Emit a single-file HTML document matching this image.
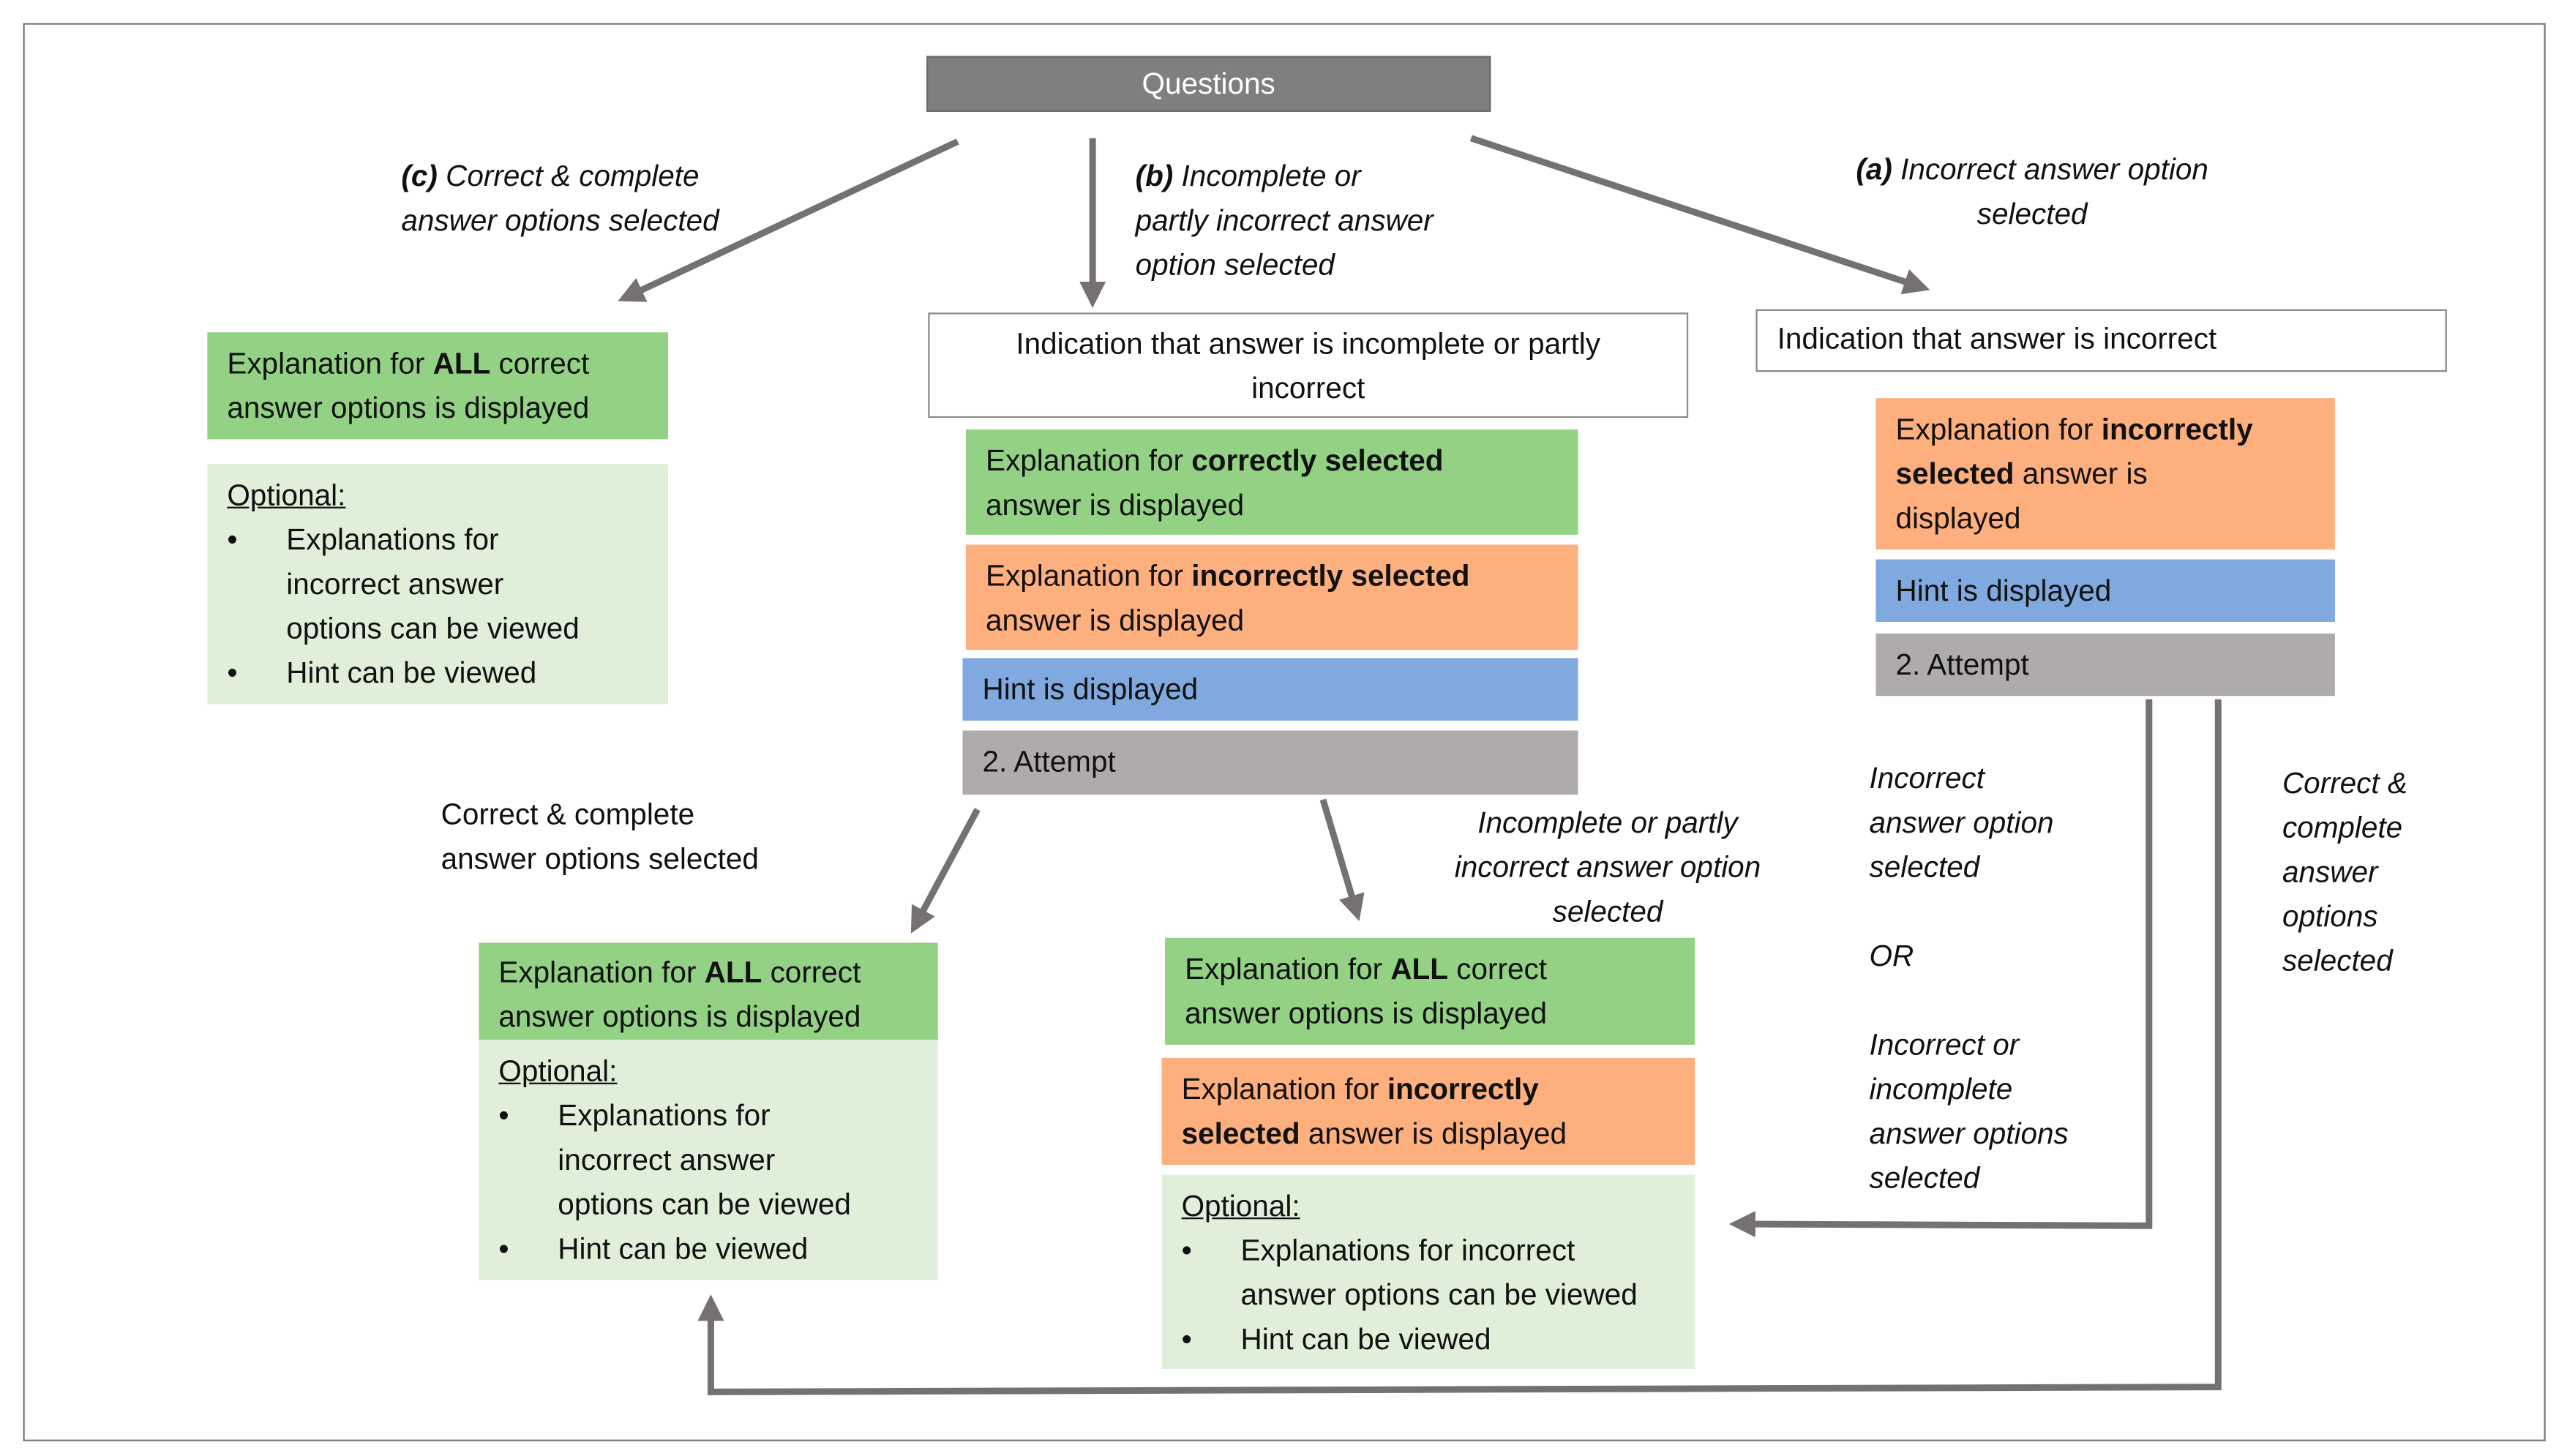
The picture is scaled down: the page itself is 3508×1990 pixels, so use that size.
<!DOCTYPE html>
<html><head><meta charset="utf-8">
<style>
html,body{margin:0;padding:0;background:#fff;}
body{width:3508px;height:1989px;overflow:hidden;}
#c{position:absolute;left:0;top:0;width:1560px;height:885px;transform:scale(2.2487);transform-origin:0 0;font-family:"Liberation Sans",sans-serif;font-size:18px;color:#111;}
.b{position:absolute;box-sizing:border-box;padding:6px 12px;line-height:27px;white-space:nowrap;}
.g{background:#93d285;}
.lg{background:#dfefd9;}
.o{background:#fdb07e;}
.bl{background:#80aadf;}
.gr{background:#afabab;}
.w{background:#fff;border:1.5px solid #8a8a8a;}
.t{position:absolute;line-height:27px;white-space:nowrap;}
i b{font-style:italic}
ul{margin:0;padding:0;list-style:none}
li{position:relative;padding-left:36px}
li:before{content:"•";position:absolute;left:0}
u{text-decoration:underline}
</style></head><body>
<div id="c">
<div style="position:absolute;left:14px;top:14px;width:1533px;height:862px;border:1.5px solid #7a7a7a;box-sizing:border-box"></div>
<div class="b" style="left:563px;top:34px;width:343px;height:34px;background:#7f7f7f;color:#fff;text-align:center;padding:3px 0;border:1px solid #6a6a6a;line-height:27px">Questions</div>

<svg width="1560" height="885" style="position:absolute;left:0;top:0" >
<defs><marker id="a" markerWidth="4" markerHeight="4" refX="2.2" refY="2" orient="auto"><path d="M0,0 L4,2 L0,4 z" fill="#767171"/></marker></defs>
<g stroke="#767171" stroke-width="4" fill="none">
<line x1="582" y1="86" x2="382" y2="180" marker-end="url(#a)"/>
<line x1="664" y1="84" x2="664" y2="180" marker-end="url(#a)"/>
<line x1="894" y1="84" x2="1166" y2="174" marker-end="url(#a)"/>
<line x1="594" y1="492" x2="557" y2="561" marker-end="url(#a)"/>
<line x1="804" y1="486" x2="824" y2="553" marker-end="url(#a)"/>
<polyline points="1306,425 1306,745 1058,744" marker-end="url(#a)"/>
<polyline points="1348,425 1348,843 432,846 432,794" marker-end="url(#a)"/>
</g></svg>

<div class="t" style="right:1123px;top:94px;text-align:left"><i><b>(c)</b> Correct &amp; complete<br>answer options selected</i></div>
<div class="t" style="left:690px;top:94px"><i><b>(b)</b> Incomplete or<br>partly incorrect answer<br>option selected</i></div>
<div class="t" style="left:1112px;top:90px;width:246px;text-align:center"><i><b>(a)</b> Incorrect answer option<br>selected</i></div>

<div class="b g" style="left:126px;top:202px;width:280px;height:65px;padding-top:6px">Explanation for <b>ALL</b> correct<br>answer options is displayed</div>
<div class="b lg" style="left:126px;top:282px;width:280px;height:146px;padding-top:6px"><u>Optional:</u><ul><li>Explanations for<br>incorrect answer<br>options can be viewed</li><li>Hint can be viewed</li></ul></div>

<div class="b w" style="left:564px;top:190px;width:462px;height:64px;text-align:center;padding-top:5px">Indication that answer is incomplete or partly<br>incorrect</div>
<div class="b g" style="left:587px;top:261px;width:372px;height:64px">Explanation for <b>correctly selected</b><br>answer is displayed</div>
<div class="b o" style="left:587px;top:331px;width:372px;height:64px">Explanation for <b>incorrectly selected</b><br>answer is displayed</div>
<div class="b bl" style="left:585px;top:400px;width:374px;height:38px;padding-top:6px">Hint is displayed</div>
<div class="b gr" style="left:585px;top:444px;width:374px;height:39px;padding-top:6px">2. Attempt</div>

<div class="b w" style="left:1067px;top:188px;width:420px;height:38px;padding-top:4px">Indication that answer is incorrect</div>
<div class="b o" style="left:1140px;top:242px;width:279px;height:92px">Explanation for <b>incorrectly</b><br><b>selected</b> answer is<br>displayed</div>
<div class="b bl" style="left:1140px;top:340px;width:279px;height:38px;padding-top:6px">Hint is displayed</div>
<div class="b gr" style="left:1140px;top:385px;width:279px;height:38px;padding-top:6px">2. Attempt</div>

<div class="t" style="left:268px;top:482px">Correct &amp; complete<br>answer options selected</div>
<div class="t" style="left:860px;top:487px;width:234px;text-align:center"><i>Incomplete or partly<br>incorrect answer option<br>selected</i></div>
<div class="t" style="left:1136px;top:460px"><i>Incorrect<br>answer option<br>selected<br><br>OR<br><br>Incorrect or<br>incomplete<br>answer options<br>selected</i></div>
<div class="t" style="left:1387px;top:463px"><i>Correct &amp;<br>complete<br>answer<br>options<br>selected</i></div>

<div class="b g" style="left:291px;top:573px;width:279px;height:59px;padding-top:5px">Explanation for <b>ALL</b> correct<br>answer options is displayed</div>
<div class="b lg" style="left:291px;top:632px;width:279px;height:146px;padding-top:6px"><u>Optional:</u><ul><li>Explanations for<br>incorrect answer<br>options can be viewed</li><li>Hint can be viewed</li></ul></div>

<div class="b g" style="left:708px;top:570px;width:322px;height:65px;padding-top:6px">Explanation for <b>ALL</b> correct<br>answer options is displayed</div>
<div class="b o" style="left:706px;top:643px;width:324px;height:65px;padding-top:6px">Explanation for <b>incorrectly</b><br><b>selected</b> answer is displayed</div>
<div class="b lg" style="left:706px;top:714px;width:324px;height:118px;padding-top:6px"><u>Optional:</u><ul><li>Explanations for incorrect<br>answer options can be viewed</li><li>Hint can be viewed</li></ul></div>
</div>
</body></html>
